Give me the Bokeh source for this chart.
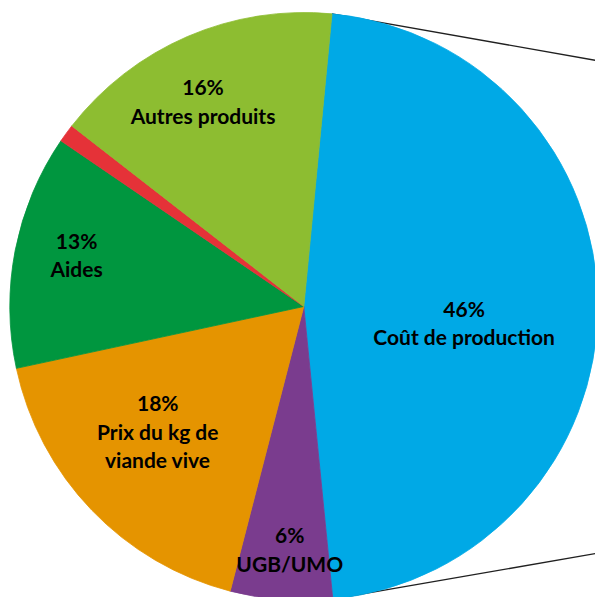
import math
from bokeh.plotting import figure
from bokeh.models import Range1d, ColumnDataSource
from bokeh.core.properties import value
from bokeh.embed import file_html
from bokeh.resources import INLINE

# ---- data ----
categories = ["Coût de production", "UGB/UMO", "Prix du kg de viande vive", "Aides", "Autres", "Autres produits"]
shares = [46.9, 5.6, 17.6, 12.9, 1.0, 16.0]
pct_labels = ["46%", "6%", "18%", "13%", "", "16%"]
name_labels = ["Coût de production", "UGB/UMO", "Prix du kg de\nviande vive", "Aides", "", "Autres produits"]
colors = ["#00A9E6", "#7A3C8E", "#E59400", "#00963F", "#E53238", "#8DBD31"]

# ---- layout / style ----
W, H = 595, 597
CX, CY, R = 303.3, 291.0, 294.0
START_CW_FROM_TOP = 5.5          # degrees, first slice starts here, clockwise
label_r = [0.548, 0.827, 0.653, 0.793, 0.0, 0.779]
label_shift = [5.8, -1.1, 3.35, 1.85, 0.0, -2.8]
connector_slopes = [-0.1765, 0.173]  # data units (y up)

total = sum(shares)
theta0 = 90.0 - START_CW_FROM_TOP
starts, ends, lx, ly, texts = [], [], [], [], []
cum = 0.0
for i, s in enumerate(shares):
    a0 = cum / total * 360.0
    a1 = (cum + s) / total * 360.0
    cum += s
    starts.append(math.radians(theta0 - a1))
    ends.append(math.radians(theta0 - a0))
    mid = theta0 - (a0 + a1) / 2.0 - label_shift[i]
    lx.append(CX + label_r[i] * R * math.cos(math.radians(mid)))
    ly.append(CY + label_r[i] * R * math.sin(math.radians(mid)))
    texts.append(pct_labels[i] + "\n" + name_labels[i] if pct_labels[i] else "")

src = ColumnDataSource(dict(cat=categories, start=starts, end=ends, color=colors,
                            lx=lx, ly=ly, text=texts))

p = figure(width=W, height=H, x_range=Range1d(0, W), y_range=Range1d(0, H),
           output_backend="svg", toolbar_location=None, min_border=0,
           x_axis_location=None, y_axis_location=None)
p.grid.visible = False
p.outline_line_color = None
p.background_fill_color = "white"
p.border_fill_color = "white"

# connector lines (pie-of-pie)
blue_angle = shares[0] / total * 2 * math.pi
edge_angles = [math.radians(theta0), math.radians(theta0) - blue_angle]
x0s, y0s, x1s, y1s = [], [], [], []
for ang, sl in zip(edge_angles, connector_slopes):
    xa = CX + R * math.cos(ang)
    ya = CY + R * math.sin(ang)
    xb = W + 30
    x0s.append(xa); y0s.append(ya); x1s.append(xb); y1s.append(ya + sl * (xb - xa))
p.segment(x0=x0s, y0=y0s, x1=x1s, y1=y1s, line_color="#202020", line_width=1.3)

p.wedge(x=CX, y=CY, radius=R, start_angle="start", end_angle="end",
        direction="anticlock", fill_color="color", line_color="color",
        line_width=0.8, source=src)

p.text(x="lx", y="ly", text="text", source=src, text_align="center",
       text_baseline="middle", text_font=value("Lato"), text_font_style="bold",
       text_font_size="21px", text_color="black", text_line_height=1.14)

open("out.html", "w").write(file_html(p, INLINE))
